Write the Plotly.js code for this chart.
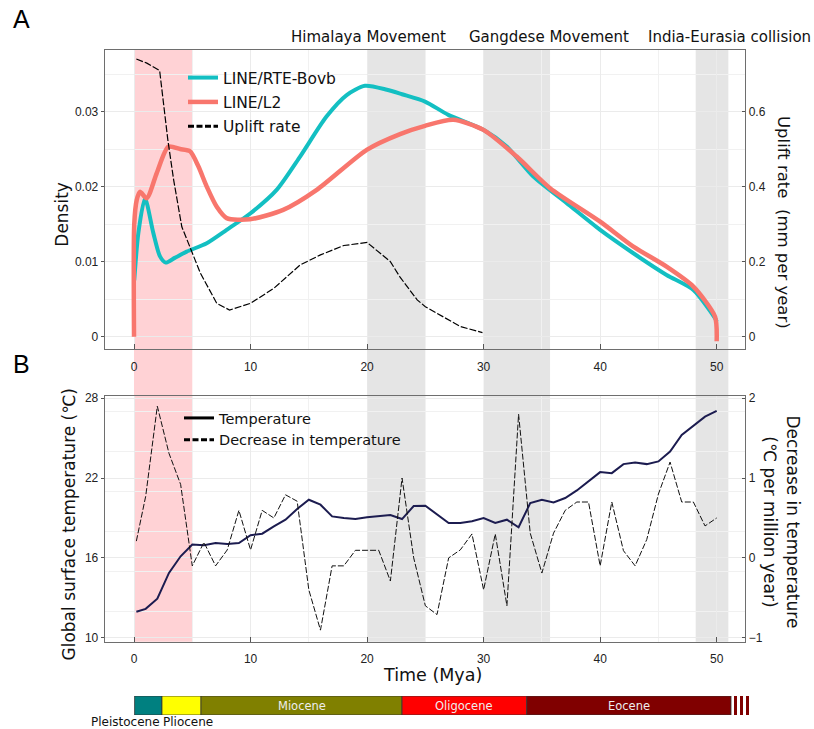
<!DOCTYPE html>
<html>
<head>
<meta charset="utf-8">
<script src="https://cdn.plot.ly/plotly-3.0.1.min.js"></script>
<style>html,body{margin:0;padding:0;background:#fff;}#chart{width:814px;height:729px;}</style>
</head>
<body>
<div id="chart"></div>
<script>
// ---------- Panel A: density of insertion times ----------
const bovbTime = [0.02, 0.37, 0.94, 1.66, 2.23, 2.72, 3.5, 4.52, 6.24, 7.95, 10.0, 12.24, 14.25, 16.5, 18.25, 19.82, 21.7, 23.0, 24.97, 26.97, 29.98, 31.98, 34.27, 37.13, 40.0, 42.85, 45.7, 48.0, 49.86, 50.0];
const bovbDensity = [0.0075, 0.0138, 0.01845, 0.0138, 0.0107, 0.00987, 0.0105, 0.01133, 0.01245, 0.01423, 0.01645, 0.01956, 0.024, 0.0293, 0.0322, 0.03343, 0.0329, 0.0323, 0.03133, 0.02956, 0.02756, 0.02533, 0.02133, 0.01779, 0.01423, 0.01112, 0.00823, 0.00623, 0.00245, 0.002];

const l2Time = [0.0, 0.02, 0.23, 0.51, 1.09, 1.95, 2.94, 3.95, 4.81, 5.52, 6.24, 7.1, 7.95, 9.95, 12.8, 15.68, 19.97, 22.83, 24.97, 27.4, 29.98, 32.84, 35.7, 40.0, 42.85, 45.7, 48.0, 49.86, 50.0];
const l2Density = [0.0, 0.015, 0.0182, 0.0193, 0.01845, 0.0218, 0.0253, 0.025, 0.0247, 0.0227, 0.02, 0.0173, 0.0158, 0.01565, 0.01689, 0.01956, 0.0249, 0.0270, 0.0281, 0.0289, 0.02756, 0.024, 0.01979, 0.01533, 0.012, 0.00933, 0.00667, 0.00267, -0.0006];

const upliftTime = [0.2, 1.1, 2.2, 2.9, 3.4, 4.1, 5.7, 7.1, 8.2, 10.0, 12.0, 14.25, 16.0, 18.0, 20.0, 22.0, 22.8, 24.3, 25.0, 28.0, 29.9];
const upliftRate = [0.74, 0.729, 0.709, 0.525, 0.418, 0.293, 0.169, 0.089, 0.071, 0.089, 0.129, 0.191, 0.218, 0.243, 0.251, 0.2, 0.16, 0.098, 0.08, 0.027, 0.011];

// ---------- Panel B: temperature ----------
const years = [0.2, 1, 2, 3, 4, 5, 6, 7, 8, 9, 10, 11, 12, 13, 14, 15, 16, 17, 18, 19, 20, 21, 22, 23, 24, 25, 26, 27, 28, 29, 30, 31, 32, 33, 34, 35, 36, 37, 38, 39, 40, 41, 42, 43, 44, 45, 46, 47, 48, 49, 50];
const temperature = [11.95, 12.17, 12.93, 14.87, 16.12, 17.0, 16.95, 17.12, 17.05, 17.12, 17.7, 17.82, 18.37, 18.87, 19.67, 20.37, 20.0, 19.12, 19.0, 18.92, 19.05, 19.12, 19.22, 18.92, 19.9, 19.92, 19.25, 18.62, 18.62, 18.75, 19.0, 18.62, 18.87, 18.3, 20.12, 20.37, 20.17, 20.5, 21.07, 21.75, 22.45, 22.37, 23.05, 23.17, 23.05, 23.25, 24.0, 25.25, 25.92, 26.62, 27.05];
const tempDecrease = [0.21, 0.77, 1.90, 1.31, 0.92, -0.10, 0.195, -0.10, 0.10, 0.595, 0.10, 0.595, 0.50, 0.79, 0.71, -0.40, -0.905, -0.10, -0.10, 0.095, 0.095, 0.095, -0.29, 1.0, 0.0, -0.6, -0.71, 0.0, 0.10, 0.30, -0.40, 0.30, -0.6, 1.80, 0.31, -0.19, 0.31, 0.595, 0.70, 0.70, -0.10, 0.70, 0.09, -0.10, 0.23, 0.80, 1.20, 0.70, 0.70, 0.40, 0.50];

// ---------- Tectonic events (shaded bands) ----------
const bandStart = [0, 20, 30, 48.2];
const bandEnd = [5, 25, 35.7, 51.0];
const bandColors = ['rgb(255,210,213)', '#e5e5e5', '#e5e5e5', '#e5e5e5'];
const eventNames = ['Himalaya Movement', 'Gangdese Movement', 'India-Eurasia collision'];
const eventLabelAt = [20.1, 35.6, 51.1];

// ---------- Geological time scale ----------
const epochNames = ['Pleistocene', 'Pliocene', 'Miocene', 'Oligocene', 'Eocene'];
const epochStart = [0.05, 2.4, 5.75, 23.0, 33.7];
const epochEnd = [2.4, 5.75, 23.0, 33.7, 51.23];
const epochColors = ['#008080', '#ffff00', '#808000', '#ff0000', '#800000'];
const epochInsideLabel = [false, false, true, true, true];
const epochBelowLabelAt = [-0.7, 4.6];
const stripeStart = [51.46, 51.97, 52.49];
const stripeEnd = [51.72, 52.23, 52.75];

const FONT = '"DejaVu Sans", Verdana, sans-serif';
const TICKFONT = {family: '"Liberation Sans", Arial, sans-serif', size: 12, color: '#222'};
const AXC = '#6e6e6e';
const GRID = '#ebebeb';

const traces = [
  {x: bovbTime, y: bovbDensity, name: 'LINE/RTE-Bovb', type: 'scatter', mode: 'lines',
   line: {color: '#13bfc2', width: 4, shape: 'spline', smoothing: 0.7}, xaxis: 'x', yaxis: 'y',
   legend: 'legend', legendgroup: 'a1', hoverinfo: 'skip'},
  {x: l2Time, y: l2Density, name: 'LINE/L2', type: 'scatter', mode: 'lines',
   line: {color: '#f8766d', width: 4.5, shape: 'spline', smoothing: 0.7}, xaxis: 'x', yaxis: 'y',
   legend: 'legend', legendgroup: 'a2', hoverinfo: 'skip'},
  {x: upliftTime, y: upliftRate, name: 'Uplift rate', type: 'scatter', mode: 'lines',
   line: {color: '#000', width: 1.2, dash: '7px,2px'}, xaxis: 'x', yaxis: 'y2',
   showlegend: false, hoverinfo: 'skip'},
  {x: [null], y: [null], name: 'Uplift rate', type: 'scatter', mode: 'lines',
   line: {color: '#000', width: 3, dash: '6px,2.5px'}, xaxis: 'x', yaxis: 'y2',
   legend: 'legend', legendgroup: 'a3', hoverinfo: 'skip'},

  {x: years, y: temperature, name: 'Temperature', type: 'scatter', mode: 'lines',
   line: {color: '#1c1c50', width: 2}, xaxis: 'x2', yaxis: 'y3', showlegend: false, hoverinfo: 'skip'},
  {x: years, y: tempDecrease, name: 'Decrease in temperature', type: 'scatter', mode: 'lines',
   line: {color: '#111', width: 1, dash: '6px,2px'}, xaxis: 'x2', yaxis: 'y4', showlegend: false, hoverinfo: 'skip'},
  {x: [null], y: [null], name: 'Temperature', type: 'scatter', mode: 'lines',
   line: {color: '#000', width: 3}, xaxis: 'x2', yaxis: 'y3', legend: 'legend2', legendgroup: 'b1', hoverinfo: 'skip'},
  {x: [null], y: [null], name: 'Decrease in temperature', type: 'scatter', mode: 'lines',
   line: {color: '#000', width: 3, dash: '6px,2.5px'}, xaxis: 'x2', yaxis: 'y4', legend: 'legend2', legendgroup: 'b2', hoverinfo: 'skip'},

  {type: 'bar', orientation: 'h', y: epochNames.map(() => 0), base: epochStart,
   x: epochEnd.map((e, i) => e - epochStart[i]), width: 1,
   marker: {color: epochColors, line: {color: '#333', width: 0.8}},
   xaxis: 'x3', yaxis: 'y5', showlegend: false, hoverinfo: 'skip'},
  {type: 'bar', orientation: 'h', y: stripeStart.map(() => 0), base: stripeStart,
   x: stripeEnd.map((e, i) => e - stripeStart[i]), width: 1,
   marker: {color: '#800000', line: {width: 0}},
   xaxis: 'x3', yaxis: 'y5', showlegend: false, hoverinfo: 'skip'}
];

const W = 814, H = 729;
const M = {l: 105, r: 54, t: 50, b: 14};
const pw = W - M.l - M.r, ph = H - M.t - M.b;
const px = p => (p - M.l) / pw;      // pixel -> paper x
const py = q => (M.t + ph - q) / ph; // pixel -> paper y

const xDom = [0, px(745)];
const aDom = [py(349), 1];
const bDom = [py(641.7), py(396)];
const cDom = [0, py(696)];
const xRange = [-2.49, 52.43];

function xAxis(anchor) {
  return {domain: xDom, anchor: anchor, range: xRange, tick0: 0, dtick: 10,
    ticks: 'inside', ticklen: 5, tickcolor: '#555', tickfont: TICKFONT, ticklabelstandoff: 6,
    showline: true, mirror: true, linecolor: AXC, linewidth: 1.3,
    showgrid: true, gridcolor: GRID, zeroline: false,
    minor: {dtick: 5, showgrid: true, gridcolor: '#f1f1f1', ticks: ''}};
}

function note(text, x, y, opts) {
  return Object.assign({text: text, x: x, y: y, xref: 'paper', yref: 'paper', showarrow: false,
    xanchor: 'center', yanchor: 'middle'}, opts);
}

const annotations = [
  note('A', px(21), py(19), {font: {family: '"Liberation Sans", Arial, sans-serif', size: 25, color: '#000'}}),
  note('B', px(21), py(364), {font: {family: '"Liberation Sans", Arial, sans-serif', size: 25, color: '#000'}}),
  note('Density', px(61.7), py(214), {textangle: -90, font: {family: FONT, size: 17, color: '#111'}}),
  note('Uplift rate\u00a0\u00a0(mm per year)', px(783), py(222), {textangle: 90, font: {family: FONT, size: 16.5, color: '#111'}}),
  note('Global surface temperature (℃)', px(68), py(524.5), {textangle: -90, font: {family: FONT, size: 17, color: '#111'}}),
  note('Decrease in temperature<br>(℃ per million year)', px(781.5), py(522), {textangle: 90, font: {family: FONT, size: 17, color: '#111'}}),
  note('Time (Mya)', px(432), py(675), {font: {family: FONT, size: 17.5, color: '#111'}})
];
eventNames.forEach((n, i) => annotations.push(note(n, eventLabelAt[i], py(37),
  {xref: 'x', font: {family: FONT, size: 15, color: '#111'}})));
epochNames.forEach((n, i) => {
  if (epochInsideLabel[i]) {
    annotations.push(note(n, (epochStart[i] + epochEnd[i]) / 2, py(705.5),
      {xref: 'x3', font: {family: FONT, size: 11.5, color: '#eeeeee'}}));
  }
});
epochBelowLabelAt.forEach((xv, i) => annotations.push(note(epochNames[i], xv, py(722),
  {xref: 'x3', font: {family: FONT, size: 12, color: '#111'}})));

const shapes = bandStart.map((s, i) => ({type: 'rect', xref: 'x', yref: 'paper', x0: s, x1: bandEnd[i],
  y0: bDom[0], y1: 1, fillcolor: bandColors[i], line: {width: 0}, layer: 'below'}));

const layout = {
  width: W, height: H, margin: M,
  paper_bgcolor: '#fff', plot_bgcolor: 'rgba(0,0,0,0)',
  font: {family: FONT, color: '#111'},
  showlegend: true, barmode: 'overlay', bargap: 0,
  xaxis: xAxis('y'),
  yaxis: {domain: aDom, anchor: 'x', range: [-0.00164, 0.0382], tick0: 0, dtick: 0.01,
    ticks: 'outside', ticklen: 3, tickcolor: '#555', tickfont: TICKFONT,
    showline: true, linecolor: AXC, linewidth: 1.3, showgrid: true, gridcolor: GRID, zeroline: false,
    minor: {dtick: 0.005, showgrid: true, gridcolor: '#f1f1f1', ticks: ''}},
  yaxis2: {overlaying: 'y', side: 'right', anchor: 'x', range: [-0.0328, 0.764], tick0: 0, dtick: 0.2,
    ticks: 'inside', ticklen: 3, tickcolor: '#555', tickfont: TICKFONT,
    showline: true, linecolor: AXC, linewidth: 1.3, showgrid: false, zeroline: false},
  xaxis2: xAxis('y3'),
  yaxis3: {domain: bDom, anchor: 'x2', range: [9.7, 28.17], tick0: 10, dtick: 6,
    ticks: 'outside', ticklen: 3, tickcolor: '#555', tickfont: TICKFONT,
    showline: true, linecolor: AXC, linewidth: 1.3, showgrid: true, gridcolor: GRID, zeroline: false,
    minor: {dtick: 3, showgrid: true, gridcolor: '#f1f1f1', ticks: ''}},
  yaxis4: {overlaying: 'y3', side: 'right', anchor: 'x2', range: [-1.05, 2.028], tick0: 0, dtick: 1,
    ticks: 'inside', ticklen: 3, tickcolor: '#555', tickfont: TICKFONT,
    showline: true, linecolor: AXC, linewidth: 1.3, showgrid: false, zeroline: false},
  xaxis3: {domain: [0, 1], anchor: 'y5', range: [xRange[0], xRange[0] + pw / (640 / (xRange[1] - xRange[0]))], visible: false, fixedrange: true},
  yaxis5: {domain: cDom, anchor: 'x3', range: [-0.5, 0.5], visible: false, fixedrange: true},
  legend: {x: px(183), y: py(61), xanchor: 'left', yanchor: 'top', bgcolor: 'rgba(0,0,0,0)',
    traceorder: 'grouped', tracegroupgap: 1.2, font: {family: FONT, size: 15.5, color: '#111'}},
  legend2: {x: px(179), y: py(402), xanchor: 'left', yanchor: 'top', bgcolor: 'rgba(0,0,0,0)',
    traceorder: 'grouped', tracegroupgap: 0, font: {family: FONT, size: 14.5, color: '#111'}},
  shapes: shapes,
  annotations: annotations
};

Plotly.newPlot('chart', traces, layout, {displayModeBar: false, staticPlot: true});
</script>
</body>
</html>
